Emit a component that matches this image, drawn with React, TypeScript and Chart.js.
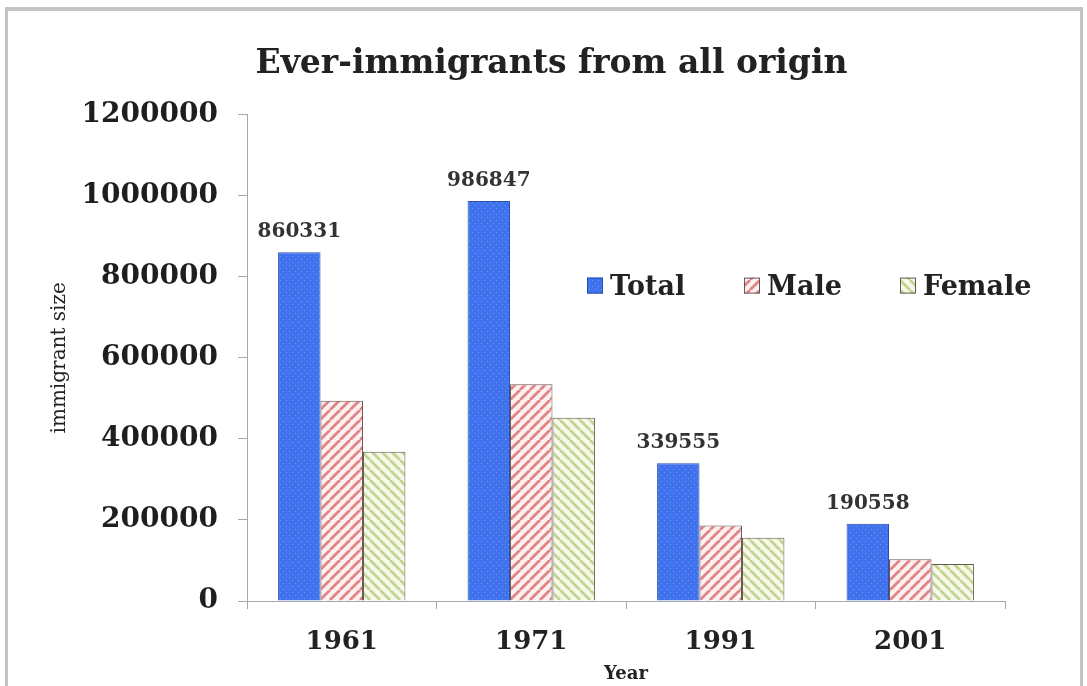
import React, { useEffect, useRef } from "react";
import { Chart, registerables } from "chart.js";

Chart.register(...registerables);

const years = ["1961", "1971", "1991", "2001"];
const totalValues = [860331, 986847, 339555, 190558];
const maleValues = [494000, 535000, 186000, 103000];
const femaleValues = [368000, 452000, 156000, 91000];
const yTickValues = [0, 200000, 400000, 600000, 800000, 1000000, 1200000];
const seriesNames = ["Total", "Male", "Female"];
const chartTitle = "Ever-immigrants from all origin";
const yAxisTitle = "immigrant size";
const xAxisTitle = "Year";

const FONT = "'DejaVu Serif', 'Liberation Serif', serif";

function makeDots(): CanvasPattern | string {
  const c = document.createElement("canvas");
  c.width = 6;
  c.height = 6;
  const g = c.getContext("2d");
  if (!g) return "#3f72ec";
  g.fillStyle = "#3f72ec";
  g.fillRect(0, 0, 6, 6);
  g.fillStyle = "#6f96f2";
  g.fillRect(1, 1, 1, 1);
  g.fillRect(4, 4, 1, 1);
  return g.createPattern(c, "repeat") || "#3f72ec";
}

function makeStripes(bg: string, fg: string, forward: boolean): CanvasPattern | string {
  const s = 10;
  const c = document.createElement("canvas");
  c.width = s;
  c.height = s;
  const g = c.getContext("2d");
  if (!g) return bg;
  g.fillStyle = bg;
  g.fillRect(0, 0, s, s);
  g.strokeStyle = fg;
  g.lineWidth = 2.8;
  g.beginPath();
  for (const k of [-s, 0, s]) {
    if (forward) {
      g.moveTo(k, s);
      g.lineTo(k + s, 0);
    } else {
      g.moveTo(k, 0);
      g.lineTo(k + s, s);
    }
  }
  g.stroke();
  return g.createPattern(c, "repeat") || bg;
}

export default function App() {
  const ref = useRef<HTMLCanvasElement | null>(null);

  useEffect(() => {
    if (!ref.current) return;
    const totalFill = makeDots();
    const maleFill = makeStripes("#fdf0f0", "#df8585", true);
    const femaleFill = makeStripes("#f6f8e8", "#c3d394", false);
    const fills = [totalFill, maleFill, femaleFill];
    const borders = ["#2b4fae", "#6a5555", "#5d5d4c"];

    const legendPlugin = {
      id: "customLegend",
      afterDraw(chart: any) {
        const ctx = chart.ctx;
        const area = chart.chartArea;
        const startX = area.left + 340;
        const cy = area.top + 172;
        const gaps = [0, 157, 313];
        ctx.save();
        ctx.font = `bold 27px ${FONT}`;
        ctx.textBaseline = "middle";
        ctx.textAlign = "left";
        seriesNames.forEach((name, i) => {
          const bx = startX + gaps[i];
          ctx.fillStyle = fills[i];
          ctx.fillRect(bx, cy - 9, 16, 16);
          ctx.strokeStyle = borders[i];
          ctx.lineWidth = 1;
          ctx.strokeRect(bx + 0.5, cy - 8.5, 15, 15);
          ctx.fillStyle = "#222";
          ctx.fillText(name, bx + 23, cy + 1);
        });
        ctx.restore();
      },
    };

    const labelPlugin = {
      id: "totalLabels",
      afterDatasetsDraw(chart: any) {
        const ctx = chart.ctx;
        const meta = chart.getDatasetMeta(0);
        ctx.save();
        ctx.font = `bold 20px ${FONT}`;
        ctx.fillStyle = "#333";
        ctx.textAlign = "center";
        ctx.textBaseline = "alphabetic";
        meta.data.forEach((bar: any, i: number) => {
          ctx.fillText(String(totalValues[i]), bar.x, bar.y - 15);
        });
        ctx.restore();
      },
    };

    const chart = new Chart(ref.current, {
      type: "bar",
      data: {
        labels: years,
        datasets: [
          { label: seriesNames[0], data: totalValues, backgroundColor: totalFill as any, borderColor: borders[0], borderWidth: 1 },
          { label: seriesNames[1], data: maleValues, backgroundColor: maleFill as any, borderColor: borders[1], borderWidth: 1 },
          { label: seriesNames[2], data: femaleValues, backgroundColor: femaleFill as any, borderColor: borders[2], borderWidth: 1 },
        ],
      },
      options: {
        responsive: false,
        animation: false,
        devicePixelRatio: 1,
        layout: { padding: { left: 16, right: 0, top: 0, bottom: 0 } },
        datasets: { bar: { categoryPercentage: 0.672, barPercentage: 1 } },
        plugins: {
          legend: { display: false },
          tooltip: { enabled: false },
          title: {
            display: true,
            text: chartTitle,
            color: "#222",
            font: { family: FONT, size: 33, weight: "bold" },
            padding: { top: 45, bottom: 30 },
          },
        },
        scales: {
          x: {
            offset: true,
            grid: { display: true, drawOnChartArea: false, offset: true, tickLength: 8, color: "#a8a8a8" },
            border: { display: true, color: "#a8a8a8", width: 1 },
            ticks: { color: "#222", padding: 18, font: { family: FONT, size: 26, weight: "bold" } },
            title: {
              display: true,
              text: xAxisTitle,
              color: "#222",
              font: { family: FONT, size: 18, weight: "bold" },
              padding: { top: 0, bottom: 1 },
            },
            afterFit(scale: any) {
              scale.height = 85;
            },
          },
          y: {
            min: 0,
            max: 1200000,
            grid: { display: true, drawOnChartArea: false, tickLength: 9, color: "#a8a8a8" },
            border: { display: true, color: "#a8a8a8", width: 1 },
            ticks: {
              color: "#1e1e1e",
              padding: 20,
              font: { family: FONT, size: 28, weight: "bold" },
              callback: (v: any) => String(v),
            },
            afterBuildTicks(scale: any) {
              scale.ticks = yTickValues.map((v) => ({ value: v }));
            },
            title: {
              display: true,
              text: yAxisTitle,
              color: "#222",
              font: { family: FONT, size: 20, weight: "normal" },
              padding: { top: 32, bottom: 0 },
            },
            afterFit(scale: any) {
              scale.width = 231;
            },
          },
          yRight: {
            type: "linear",
            position: "right",
            display: true,
            grid: { display: false },
            border: { display: false },
            ticks: { display: false },
            afterFit(scale: any) {
              scale.width = 82;
            },
          },
        },
      } as any,
      plugins: [legendPlugin, labelPlugin],
    });
    return () => chart.destroy();
  }, []);

  return (
    <div style={{ position: "absolute", left: 0, top: 0, width: 1087, height: 686, background: "#fff", overflow: "hidden" }}>
      <canvas ref={ref} width={1087} height={686} style={{ display: "block", position: "absolute", left: 0, top: 0 }} />
      <div style={{ position: "absolute", left: 5, top: 7, width: 1078, height: 4, background: "#c4c4c4" }} />
      <div style={{ position: "absolute", left: 5, top: 7, width: 3, height: 679, background: "#c4c4c4" }} />
      <div style={{ position: "absolute", left: 1080, top: 7, width: 3, height: 679, background: "#c4c4c4" }} />
    </div>
  );
}
